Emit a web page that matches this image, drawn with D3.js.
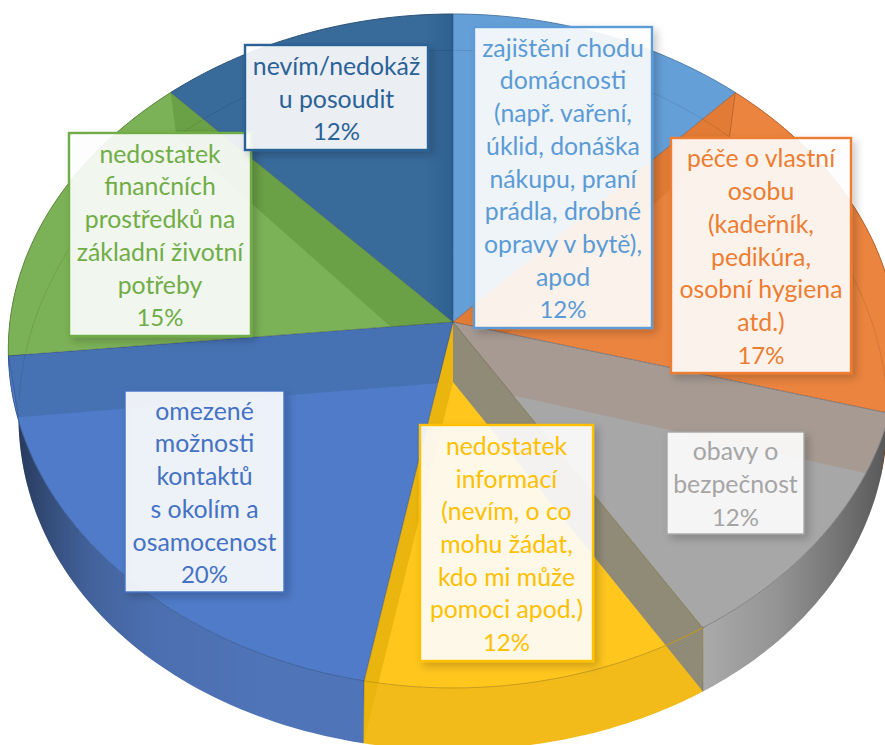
<!DOCTYPE html>
<html lang="cs"><head><meta charset="utf-8">
<script src="https://cdnjs.cloudflare.com/ajax/libs/d3/7.8.5/d3.min.js"></script>
<style>html,body{margin:0;background:#fff}svg{display:block}text{font-family:Lato,"Noto Sans",sans-serif}</style>
</head><body><svg id="c" width="885" height="745"></svg>
<script>
// ---- data (clockwise from 12 o'clock) ----
const categories = [
  ["zajištění chodu","domácnosti","(např. vaření,","úklid, donáška","nákupu, praní","prádla, drobné","opravy v bytě),","apod"],
  ["péče o vlastní","osobu","(kadeřník,","pedikúra,","osobní hygiena","atd.)"],
  ["obavy o","bezpečnost"],
  ["nedostatek","informací","(nevím, o co","mohu žádat,","kdo mi může","pomoci apod.)"],
  ["omezené","možnosti","kontaktů","s okolím a","osamocenost"],
  ["nedostatek","finančních","prostředků na","základní životní","potřeby"],
  ["nevím/nedokáž","u posoudit"]
];
const values = [12, 17.3, 11.8, 11.9, 20.4, 14.6, 12];

// ---- styles and layout (separate from data) ----
const faceColors = ["#659FD8","#EB843F","#A7A7A7","#FFC61E","#4F7BC8","#7CB257","#386A9A"];
const wallColors = ["#5B93CC","#E07B35","#ABABAB","#F2BB1A","#4F74B8","#6FA34C","#2F5F8F"];
const textColors = ["#5B9BD5","#ED7D31","#A5A5A5","#FFC000","#4472C4","#70AD47","#2A6297"];
const bandFills  = ["url(#stripShade)","#E17B35","#A69A92","#8F8B76","#EBB50F","#4672B4","#6AA046"];
const bandDest   = [6,1,2,3,3,4,5];
const bandOnWall = [false,false,false,true,true,false,false];
const boxes = [[474,27,178,301,2.4],[671,138,180,235,2.4],[667,432,137,102,1.4],[420,425,173,236,2.4],[125,391,159,201,1.4],[69,133,182,203,2.4],[245,45,183,105,2.4]];
const lineH = 32.7, fontPx = 24.8, pctPx = 24;

const W = 885, H = 745;
const svg = d3.select("#c");
const defs = svg.append("defs");

// Perspective projection of the pie's unit disc, top and bottom planes
const topX = (u,v) => 453 + 434*u/(1-0.086*v)*(1+0.021*(1-v*v));
const topY = (u,v) => 322 + 334.5*v/(1-0.086*v);
const botX = (u,v) => 453 + 432.5*u/(1-0.0967*v);
const botY = (u,v) => 382 + 349*v/(1-0.052*v);
const T = a => [topX(Math.sin(a),-Math.cos(a)), topY(Math.sin(a),-Math.cos(a))];
const B = a => [botX(Math.sin(a),-Math.cos(a)), botY(Math.sin(a),-Math.cos(a))];
const line = d3.line();
const arcPts = (f,a0,a1) => d3.range(0,61).map(i => f(a0+(a1-a0)*i/60));

const arcs = d3.pie().sort(null).startAngle(0).endAngle(2*Math.PI)(values);
const facePath = d => line([[453,322],...arcPts(T,d.startAngle,d.endAngle)])+"Z";
const rimPath  = d => line(arcPts(T,d.startAngle,d.endAngle));
const wallPath = d => line([...arcPts(T,d.startAngle,d.endAngle),...arcPts(B,d.endAngle,d.startAngle)])+"Z";

// shade over the outer wall
const grad = defs.append("linearGradient").attr("id","wallShade").attr("gradientUnits","userSpaceOnUse")
  .attr("x1",0).attr("x2",W).attr("y1",0).attr("y2",0);
[[0.02,.5],[0.05,.36],[0.1,.16],[0.17,.05],[0.3,0],[0.79,0],[0.88,.14],[0.94,.3],[1,.48]].forEach(s=>
  grad.append("stop").attr("offset",s[0]).attr("stop-color","#000").attr("stop-opacity",s[1]));

// soft darkening of the wall seen at 12 o'clock
const strip = defs.append("linearGradient").attr("id","stripShade").attr("gradientUnits","userSpaceOnUse")
  .attr("x1",425).attr("x2",453).attr("y1",0).attr("y2",0);
strip.append("stop").attr("offset",0).attr("stop-color","#1d4f80").attr("stop-opacity",0);
strip.append("stop").attr("offset",1).attr("stop-color","#1d4f80").attr("stop-opacity",.4);

const shadow = defs.append("filter").attr("id","boxShadow").attr("x","-15%").attr("y","-15%").attr("width","135%").attr("height","135%");
shadow.append("feDropShadow").attr("dx",4).attr("dy",4).attr("stdDeviation",4).attr("flood-color","#000").attr("flood-opacity",.22);

const g = svg.append("g");
// outer walls, only those that face the viewer
const front = arcs.filter(d => d.endAngle > Math.PI/2-0.3 && d.startAngle < 1.5*Math.PI+0.3);
g.selectAll("path.wall").data(front).join("path").attr("class","wall")
  .attr("d",wallPath).attr("fill",d=>wallColors[d.index]);
g.selectAll("path.wallS").data(front).join("path").attr("class","wallS")
  .attr("d",wallPath).attr("fill","url(#wallShade)");

// top faces
g.selectAll("path.face").data(arcs).join("path").attr("class","face")
  .attr("d",facePath).attr("fill",d=>faceColors[d.index]);

// inner walls seen through the translucent slices
arcs.forEach((d,i)=>{
  const id="clip"+i, dest=arcs[bandDest[i]];
  const cp=defs.append("clipPath").attr("id",id);
  cp.append("path").attr("d",facePath(dest));
  if (bandOnWall[i]) cp.append("path").attr("d",wallPath(dest));
  const a=d.startAngle, tp=T(a), bp=B(a);
  const quad = i===0
    ? [[453,322],[425,322],[425,tp[1]],tp]
    : [[453,322],[453,382],bp,tp];
  g.append("path").attr("d",line(quad)+"Z").attr("fill",bandFills[i]).attr("clip-path",`url(#${id})`);
});

// faint back rim of the lower plane
g.append("path").attr("d",line(arcPts(B,-1.62,1.62))).attr("fill","none").attr("stroke","rgba(0,0,0,.1)").attr("stroke-width",1);

// edges: rims in the slice's own dark tone, radial seams neutral
g.selectAll("path.rim").data(arcs).join("path").attr("class","rim")
  .attr("d",rimPath).attr("fill","none").attr("stroke",d=>d3.color(faceColors[d.index]).darker(0.7)).attr("stroke-width",1);
g.selectAll("path.seam").data(arcs).join("path").attr("class","seam")
  .attr("d",d=>line([[453,322],T(d.startAngle)])).attr("fill","none").attr("stroke","rgba(40,50,70,.38)").attr("stroke-width",1);
g.selectAll("path.wedge").data(front).join("path").attr("class","wedge")
  .attr("d",d=>line([T(d.startAngle),B(d.startAngle)])).attr("fill","none").attr("stroke","rgba(0,0,0,.18)");

// data labels
const labels = svg.selectAll("g.label").data(arcs).join("g").attr("class","label");
labels.append("rect")
  .attr("x",d=>boxes[d.index][0]).attr("y",d=>boxes[d.index][1])
  .attr("width",d=>boxes[d.index][2]).attr("height",d=>boxes[d.index][3])
  .attr("fill","rgba(255,255,255,.89)").attr("stroke",d=>textColors[d.index])
  .attr("stroke-width",d=>boxes[d.index][4]).attr("filter","url(#boxShadow)");
labels.each(function(d){
  const b=boxes[d.index], names=categories[d.index], ls=[...names, d3.format(".0f")(d.value)+"%"];
  const cx=b[0]+b[2]/2, cy=b[1]+b[3]/2, y0=cy-(ls.length-1)*lineH/2;
  d3.select(this).selectAll("text").data(ls).join("text")
    .attr("x",cx).attr("y",(_,i)=>y0+i*lineH+10)
    .attr("text-anchor","middle").attr("font-size",(_,i)=>i===names.length?pctPx:fontPx).attr("fill",textColors[d.index])
    .text(t=>t);
});
</script></body></html>
